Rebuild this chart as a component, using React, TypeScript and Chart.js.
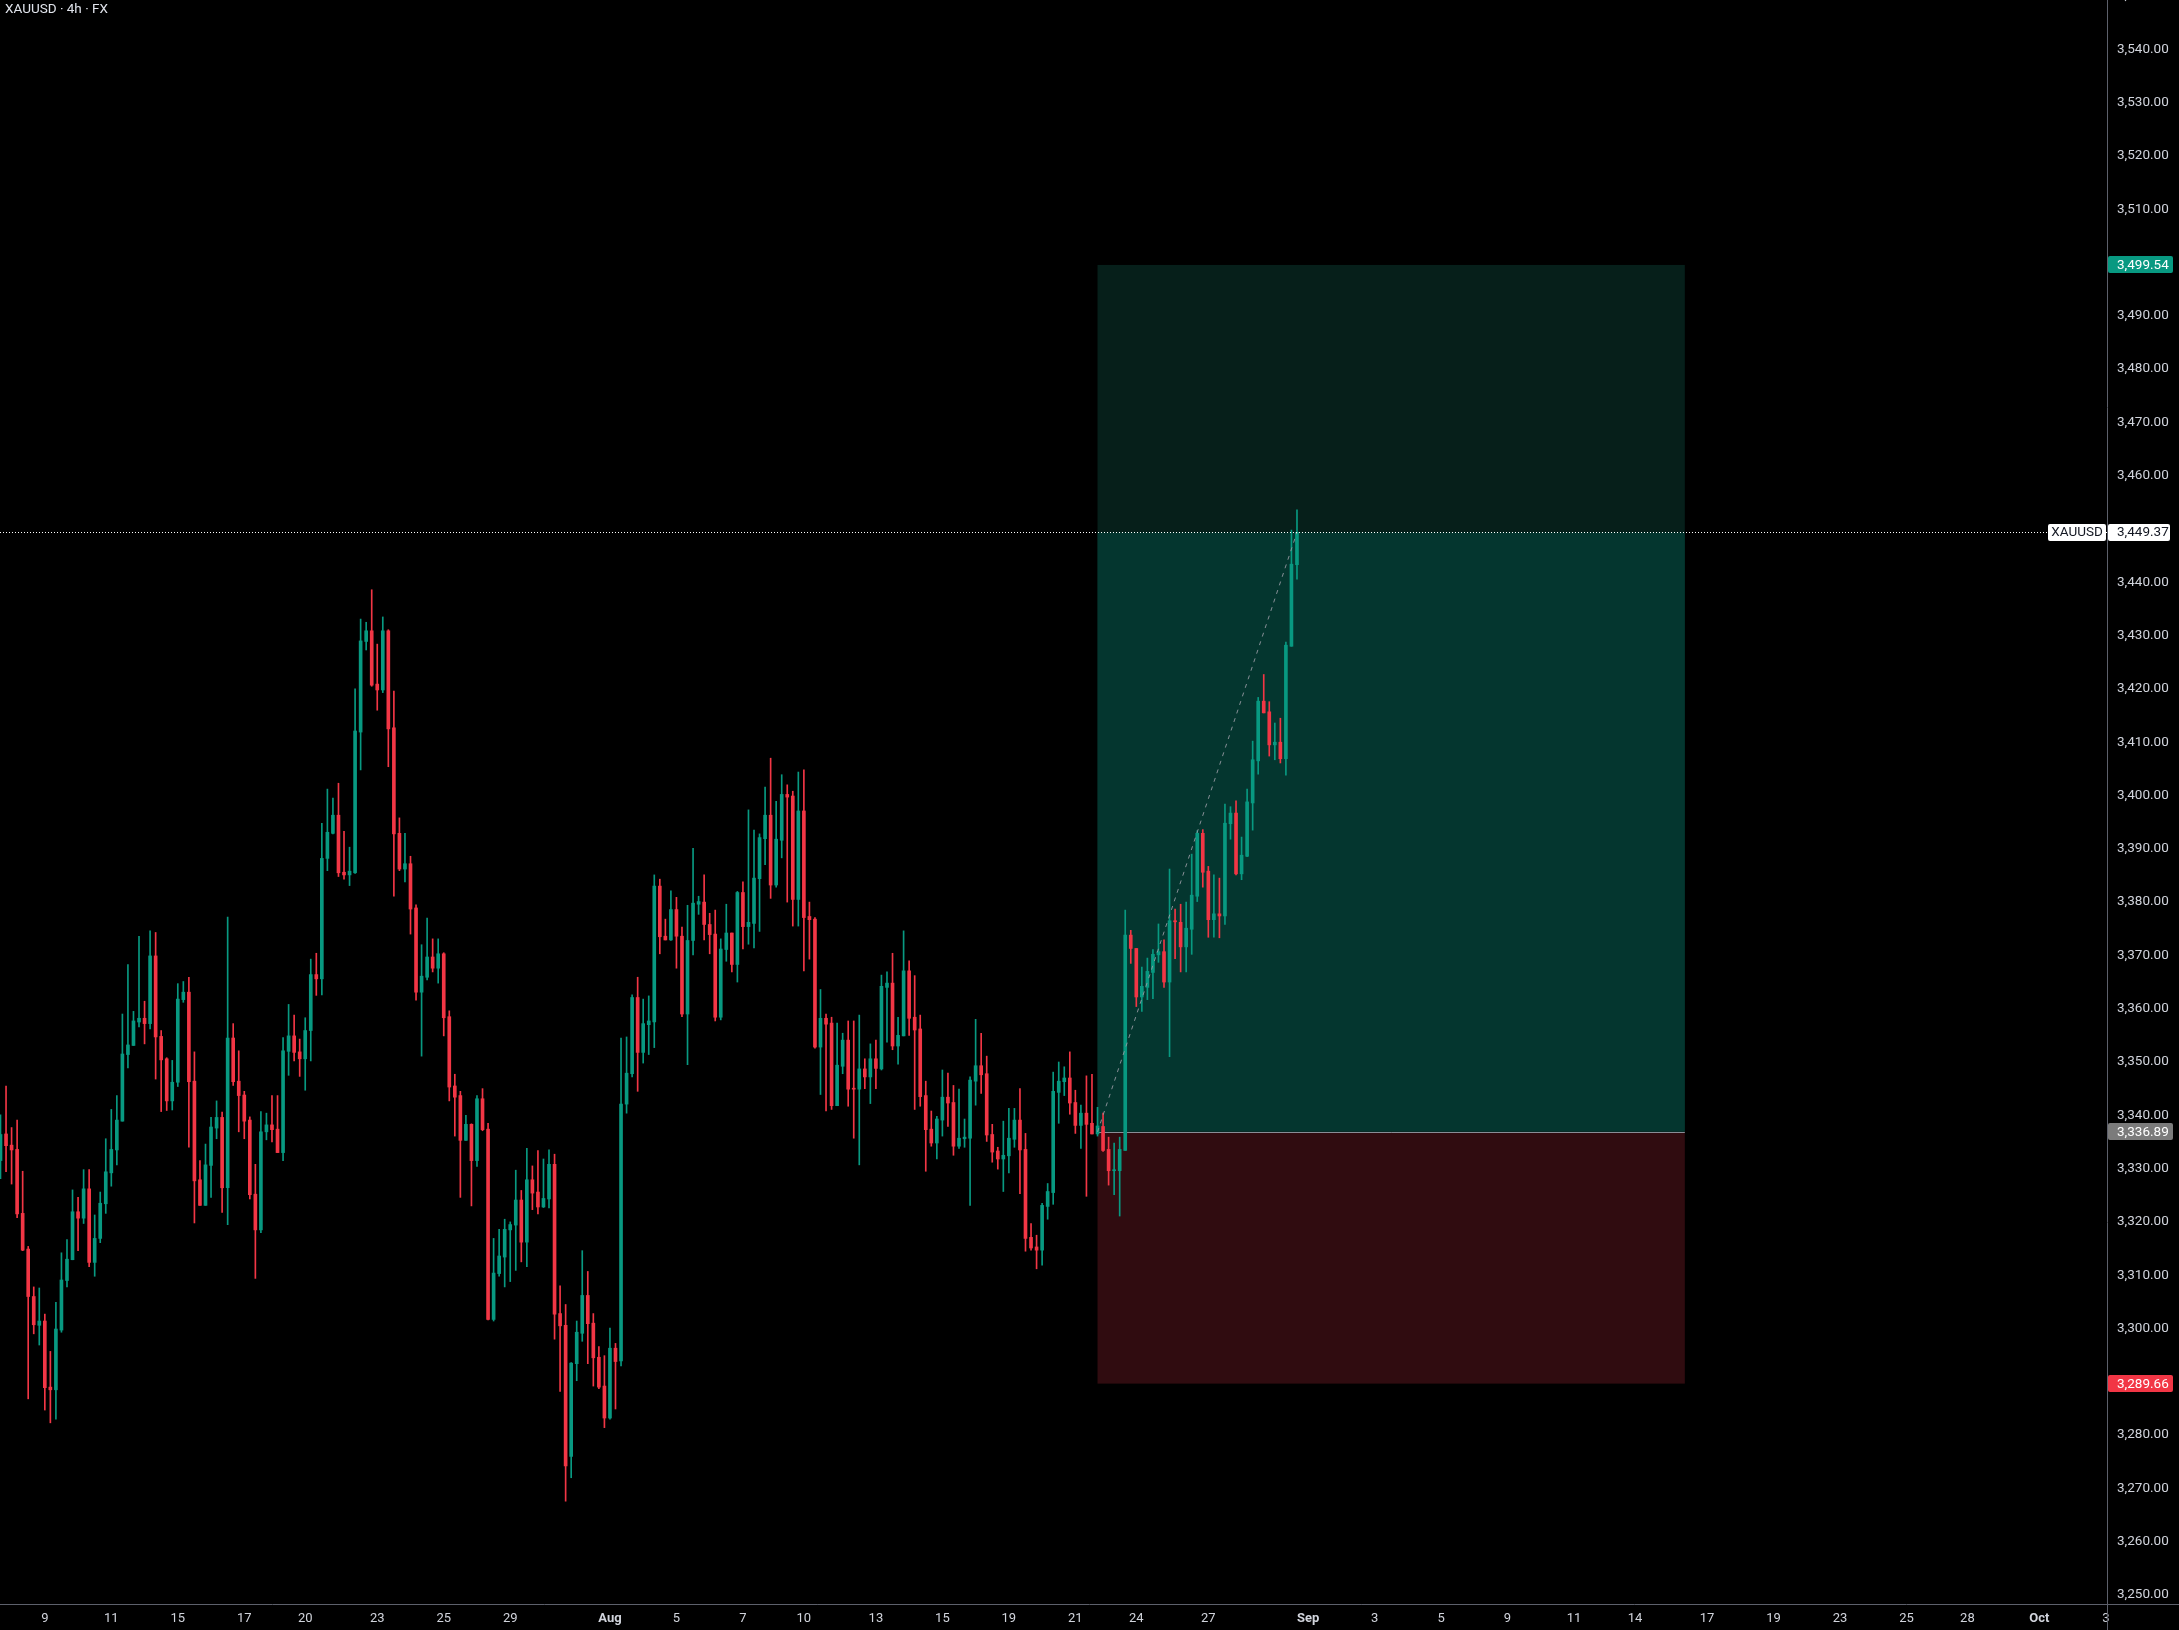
import React, { useEffect, useRef } from 'react';
import { Chart, registerables } from 'chart.js';

Chart.register(...registerables);

const TITLE = 'XAUUSD · 4h · FX';
const SYMBOL = 'XAUUSD';

// 4h candles, bar index = array index
const OPEN = [
  3331.5, 3336.5, 3334.4, 3333.6, 3321.6, 3314.9, 3306.0, 3300.6, 3301.4, 3289.0,
  3288.5, 3299.7, 3309.0, 3312.9, 3321.9, 3320.7, 3326.2, 3312.4, 3316.9, 3323.4,
  3329.2, 3333.5, 3338.9, 3351.4, 3353.1, 3357.5, 3358.2, 3357.2, 3369.9, 3354.8,
  3350.6, 3342.7, 3346.2, 3361.7, 3363.1, 3346.4, 3327.9, 3323.1, 3330.6, 3337.6,
  3339.6, 3326.4, 3354.5, 3346.4, 3343.8, 3339.1, 3325.2, 3318.5, 3336.9, 3338.2,
  3337.4, 3333.0, 3352.0, 3354.9, 3351.9, 3350.6, 3355.9, 3366.4, 3365.6, 3388.2,
  3392.9, 3396.3, 3385.6, 3385.1, 3385.5, 3411.9, 3428.9, 3430.9, 3420.9, 3419.8,
  3430.9, 3412.7, 3392.9, 3386.2, 3387.2, 3378.9, 3363.1, 3365.9, 3369.7, 3367.6,
  3370.3, 3358.5, 3345.5, 3343.7, 3335.3, 3338.3, 3331.5, 3343.1, 3337.4, 3301.7,
  3310.3, 3313.4, 3318.5, 3319.4, 3324.1, 3316.2, 3327.9, 3325.6, 3322.8, 3324.3,
  3330.8, 3302.8, 3300.6, 3276.0, 3293.4, 3299.1, 3306.2, 3301.0, 3294.6, 3289.2,
  3283.2, 3296.3, 3293.9, 3342.1, 3347.8, 3362.1, 3351.8, 3357.0, 3357.5, 3383.0,
  3373.6, 3372.9, 3378.6, 3373.6, 3359.0, 3372.8, 3379.6, 3380.0, 3375.8, 3374.0,
  3358.4, 3371.1, 3374.2, 3368.3, 3381.8, 3375.4, 3376.0, 3384.4, 3391.9, 3396.3,
  3383.2, 3391.6, 3400.2, 3399.9, 3380.5, 3397.1, 3377.3, 3376.8, 3352.8, 3358.2,
  3357.3, 3341.8, 3349.2, 3354.1, 3345.0, 3344.9, 3348.7, 3347.2, 3350.6, 3348.7,
  3364.0, 3364.8, 3353.0, 3354.9, 3367.1, 3358.4, 3356.2, 3343.7, 3337.4, 3334.8,
  3339.1, 3343.4, 3342.4, 3334.2, 3335.6, 3335.7, 3346.4, 3349.3, 3347.8, 3336.4,
  3333.3, 3331.8, 3332.4, 3335.5, 3339.1, 3333.6, 3317.1, 3315.3, 3314.7, 3322.9,
  3325.5, 3344.3, 3346.3, 3347.0, 3342.4, 3338.1, 3340.4, 3338.5, 3336.5, 3337.9,
  3333.6, 3329.6, 3329.6, 3333.4, 3373.8, 3371.3, 3362.2, 3364.0, 3366.8, 3370.1,
  3370.7, 3365.0, 3376.5, 3376.2, 3371.6, 3374.9, 3381.1, 3392.9, 3385.8, 3376.7,
  3377.8, 3377.4, 3394.7, 3396.7, 3385.3, 3388.6, 3398.6, 3406.5, 3417.7, 3415.7,
  3409.5, 3410.0, 3406.9, 3428.0, 3443.3,
];
const HIGH = [
  3340.1, 3345.5, 3337.7, 3339.1, 3329.5, 3315.4, 3307.8, 3307.6, 3302.7, 3295.7,
  3304.9, 3314.2, 3316.7, 3326.0, 3324.6, 3329.8, 3329.8, 3321.3, 3325.6, 3335.6,
  3341.1, 3343.7, 3359.0, 3368.3, 3359.5, 3373.6, 3361.4, 3374.6, 3374.3, 3355.9,
  3350.8, 3350.3, 3364.7, 3365.1, 3365.9, 3351.9, 3331.5, 3334.6, 3339.6, 3342.7,
  3340.6, 3377.2, 3357.2, 3352.1, 3344.5, 3339.7, 3330.8, 3340.7, 3340.4, 3343.7,
  3343.7, 3354.6, 3360.8, 3358.8, 3354.3, 3358.3, 3369.3, 3370.4, 3394.8, 3401.2,
  3399.5, 3402.3, 3393.3, 3390.3, 3420.0, 3433.1, 3432.5, 3438.6, 3428.4, 3433.5,
  3431.1, 3419.6, 3395.8, 3392.9, 3388.6, 3379.5, 3372.0, 3377.0, 3373.1, 3373.1,
  3370.5, 3359.6, 3347.7, 3344.5, 3340.0, 3338.4, 3343.7, 3345.0, 3338.5, 3316.9,
  3318.6, 3320.5, 3320.0, 3329.7, 3325.9, 3333.8, 3330.5, 3333.4, 3331.8, 3333.5,
  3332.7, 3308.0, 3304.5, 3293.6, 3301.4, 3314.6, 3310.7, 3302.8, 3296.6, 3294.9,
  3300.1, 3297.2, 3354.5, 3354.7, 3362.6, 3365.9, 3361.8, 3362.4, 3385.1, 3384.3,
  3376.8, 3382.1, 3380.9, 3375.3, 3379.4, 3390.1, 3381.1, 3385.1, 3377.9, 3378.5,
  3373.1, 3379.6, 3374.2, 3382.0, 3383.8, 3397.3, 3393.5, 3392.8, 3401.6, 3407.0,
  3398.9, 3403.9, 3402.0, 3400.8, 3404.4, 3404.8, 3380.0, 3377.1, 3363.6, 3359.0,
  3358.4, 3357.3, 3355.4, 3357.7, 3357.7, 3358.8, 3350.6, 3353.4, 3354.1, 3366.3,
  3366.9, 3370.4, 3358.4, 3374.6, 3369.0, 3366.2, 3358.8, 3346.4, 3340.8, 3339.8,
  3348.5, 3347.9, 3345.6, 3344.9, 3339.3, 3347.2, 3358.0, 3355.4, 3351.1, 3338.3,
  3334.0, 3338.9, 3341.3, 3341.3, 3345.0, 3336.6, 3319.7, 3317.5, 3323.5, 3327.2,
  3348.1, 3350.0, 3349.1, 3351.9, 3344.7, 3341.9, 3347.4, 3347.7, 3341.5, 3340.4,
  3335.9, 3334.8, 3335.9, 3378.5, 3374.7, 3371.3, 3367.8, 3369.5, 3371.1, 3375.9,
  3372.9, 3386.2, 3378.7, 3379.6, 3380.0, 3389.0, 3393.4, 3393.6, 3386.7, 3385.1,
  3384.5, 3398.4, 3397.9, 3399.0, 3392.2, 3401.2, 3410.2, 3418.4, 3422.7, 3417.6,
  3413.6, 3414.5, 3428.8, 3449.8, 3453.6,
];
const LOW = [
  3328.1, 3329.4, 3327.1, 3320.8, 3314.6, 3286.8, 3299.0, 3296.9, 3284.7, 3282.3,
  3283.0, 3299.3, 3307.8, 3312.9, 3314.6, 3319.7, 3311.6, 3309.8, 3316.1, 3321.6,
  3326.7, 3330.7, 3338.9, 3348.9, 3353.1, 3356.6, 3353.4, 3356.2, 3346.8, 3340.7,
  3340.9, 3341.0, 3345.4, 3361.2, 3334.0, 3319.8, 3323.1, 3323.1, 3324.6, 3335.6,
  3321.8, 3319.5, 3345.6, 3336.9, 3335.6, 3324.3, 3309.4, 3318.0, 3335.4, 3335.0,
  3333.0, 3331.5, 3347.5, 3350.2, 3347.3, 3344.7, 3350.2, 3362.5, 3362.6, 3385.9,
  3392.8, 3384.8, 3384.3, 3383.1, 3385.4, 3404.8, 3427.3, 3420.5, 3416.0, 3419.3,
  3405.4, 3381.1, 3385.9, 3383.8, 3374.0, 3361.6, 3351.1, 3365.4, 3366.9, 3364.8,
  3354.9, 3342.7, 3336.1, 3324.6, 3335.3, 3323.0, 3330.4, 3337.1, 3301.6, 3301.4,
  3309.8, 3307.8, 3308.8, 3310.9, 3312.5, 3311.6, 3322.3, 3321.5, 3322.7, 3322.6,
  3298.0, 3288.2, 3267.6, 3272.0, 3290.2, 3297.6, 3293.4, 3289.2, 3288.7, 3281.4,
  3283.0, 3284.9, 3293.0, 3340.4, 3347.2, 3344.5, 3349.8, 3351.4, 3352.7, 3370.3,
  3372.9, 3372.8, 3367.6, 3358.5, 3349.5, 3370.1, 3377.7, 3372.9, 3370.3, 3357.7,
  3357.9, 3368.9, 3366.9, 3365.0, 3371.2, 3372.1, 3371.4, 3374.5, 3387.0, 3380.7,
  3382.8, 3388.3, 3380.0, 3375.5, 3375.5, 3367.1, 3369.3, 3352.6, 3343.9, 3340.8,
  3341.1, 3341.8, 3347.8, 3341.7, 3335.7, 3330.7, 3345.0, 3342.2, 3345.0, 3348.5,
  3353.7, 3352.3, 3349.6, 3354.9, 3355.0, 3341.1, 3341.7, 3329.5, 3334.2, 3331.8,
  3336.1, 3337.9, 3332.5, 3333.8, 3334.0, 3323.1, 3341.9, 3344.1, 3335.1, 3331.2,
  3329.9, 3325.7, 3329.2, 3334.0, 3325.3, 3314.5, 3314.7, 3311.2, 3311.9, 3320.5,
  3323.3, 3338.5, 3343.7, 3340.2, 3336.6, 3333.8, 3324.8, 3336.5, 3336.1, 3333.2,
  3326.9, 3325.1, 3321.1, 3333.4, 3368.5, 3360.4, 3359.5, 3361.7, 3361.9, 3368.7,
  3364.0, 3351.0, 3369.4, 3366.9, 3366.9, 3370.2, 3380.1, 3382.8, 3373.4, 3373.4,
  3373.3, 3375.8, 3391.8, 3385.1, 3384.2, 3388.5, 3393.5, 3404.0, 3415.5, 3407.4,
  3406.7, 3406.1, 3403.8, 3428.0, 3440.6,
];
const CLOSE = [
  3336.4, 3334.3, 3333.5, 3321.5, 3314.7, 3306.0, 3300.7, 3301.4, 3288.9, 3288.5,
  3299.9, 3309.1, 3313.0, 3321.9, 3320.7, 3326.2, 3312.4, 3316.9, 3323.5, 3329.4,
  3333.6, 3339.1, 3351.5, 3353.2, 3357.7, 3358.2, 3357.2, 3369.9, 3354.7, 3350.4,
  3342.7, 3346.2, 3361.8, 3363.1, 3346.3, 3327.7, 3323.1, 3330.7, 3337.8, 3339.6,
  3326.4, 3354.5, 3346.3, 3343.7, 3338.9, 3325.1, 3318.5, 3336.9, 3338.2, 3337.3,
  3333.0, 3352.1, 3354.9, 3351.8, 3350.6, 3355.9, 3366.4, 3365.6, 3388.2, 3393.1,
  3396.3, 3385.5, 3385.1, 3385.8, 3412.1, 3429.0, 3430.9, 3420.7, 3419.8, 3430.9,
  3412.5, 3392.8, 3386.2, 3387.2, 3378.7, 3363.1, 3366.1, 3369.7, 3367.6, 3370.3,
  3358.3, 3345.3, 3343.4, 3335.3, 3338.3, 3331.5, 3343.1, 3337.3, 3301.7, 3310.4,
  3313.6, 3318.6, 3319.5, 3324.1, 3316.2, 3327.9, 3325.4, 3322.8, 3324.4, 3330.8,
  3302.7, 3300.5, 3274.2, 3293.5, 3299.3, 3306.2, 3300.9, 3294.5, 3289.0, 3283.2,
  3296.3, 3293.8, 3342.1, 3347.9, 3362.1, 3351.8, 3357.2, 3357.7, 3383.0, 3373.5,
  3372.9, 3378.6, 3373.6, 3359.0, 3372.8, 3379.8, 3380.1, 3375.8, 3373.9, 3358.4,
  3371.2, 3374.2, 3368.3, 3381.8, 3375.4, 3376.2, 3384.5, 3392.1, 3396.3, 3383.2,
  3391.8, 3400.2, 3399.7, 3380.5, 3397.1, 3377.1, 3376.7, 3352.8, 3358.2, 3357.1,
  3341.8, 3349.4, 3354.1, 3344.9, 3344.9, 3348.7, 3347.2, 3350.6, 3348.8, 3364.2,
  3364.8, 3353.0, 3355.0, 3367.1, 3358.2, 3356.0, 3343.5, 3337.3, 3334.8, 3339.3,
  3343.4, 3342.3, 3334.2, 3335.7, 3335.9, 3346.6, 3349.3, 3347.6, 3336.3, 3333.1,
  3331.8, 3332.5, 3335.7, 3339.1, 3333.5, 3316.9, 3315.1, 3314.7, 3323.1, 3325.7,
  3344.5, 3346.4, 3347.0, 3342.3, 3338.1, 3340.4, 3338.3, 3336.5, 3338.0, 3333.4,
  3329.6, 3329.7, 3333.6, 3373.8, 3371.3, 3362.2, 3364.2, 3367.0, 3370.2, 3370.7,
  3365.0, 3376.5, 3376.3, 3371.6, 3375.1, 3381.3, 3392.9, 3385.6, 3376.7, 3377.8,
  3377.4, 3394.8, 3396.7, 3385.3, 3388.8, 3398.8, 3406.7, 3417.7, 3415.5, 3409.5,
  3410.0, 3406.9, 3428.2, 3443.4, 3449.37,
];

// time-axis labels (bar index of the first bar of that day)
const X_TICK_INDEX = [8, 20, 32, 44, 55, 68, 80, 92, 110, 122, 134, 145, 158, 170, 182, 194, 205, 218, 236, 248, 260, 272, 284, 295, 308, 320, 332, 344, 355, 368, 380];
const X_TICK_LABELS = ['9', '11', '15', '17', '20', '23', '25', '29', 'Aug', '5', '7', '10', '13', '15', '19', '21', '24', '27', 'Sep', '3', '5', '9', '11', '14', '17', '19', '23', '25', '28', 'Oct', '3'];
const MONTH_LABELS = ['Aug', 'Sep', 'Oct'];

// long position tool
const TARGET_PRICE = 3499.54;
const CURRENT_PRICE = 3449.37;
const ENTRY_PRICE = 3336.89;
const STOP_PRICE = 3289.66;
const POSITION_START = 198;
const POSITION_END = 304;
const TREND_FROM = 198;
const TREND_TO = 234;

const X_MIN = -0.09;
const X_MAX = 380.2;
const Y_MIN = 3248.31;
const Y_MAX = 3549.25;
const Y_STEP = 10;
const TOP_PARTIAL_TICK = 3550;

const UP = '#089981';
const DOWN = '#f23645';
const TEXT = '#d1d4dc';
const AXIS_LINE = '#5d606b';
const FONT = 'Roboto, "Noto Sans", sans-serif';

const fmt = (v: number) =>
  v.toLocaleString('en-US', { minimumFractionDigits: 2, maximumFractionDigits: 2 });

const MARKERS = [TARGET_PRICE, CURRENT_PRICE, ENTRY_PRICE, STOP_PRICE];

function tag(ctx: CanvasRenderingContext2D, x0: number, w: number, yc: number, text: string, bg: string, fg: string, align: 'left' | 'center') {
  const h = 17;
  ctx.fillStyle = bg;
  ctx.beginPath();
  (ctx as any).roundRect(x0, Math.round(yc - h / 2), w, h, 2);
  ctx.fill();
  ctx.fillStyle = fg;
  ctx.font = `13.5px ${FONT}`;
  ctx.textBaseline = 'middle';
  ctx.textAlign = align;
  ctx.fillText(text, align === 'center' ? x0 + w / 2 : x0 + 9, Math.round(yc) + 0.5);
}

const overlay = {
  id: 'overlay',
  beforeDatasetsDraw(chart: any) {
    const { ctx, chartArea: a, scales } = chart;
    const xs = scales.x, ys = scales.y;
    const x0 = xs.getPixelForValue(POSITION_START);
    const x1 = xs.getPixelForValue(POSITION_END);
    const yT = ys.getPixelForValue(TARGET_PRICE);
    const yC = ys.getPixelForValue(CURRENT_PRICE);
    const yE = ys.getPixelForValue(ENTRY_PRICE);
    const yS = ys.getPixelForValue(STOP_PRICE);
    ctx.save();
    ctx.beginPath();
    ctx.rect(a.left, a.top, a.right - a.left, a.bottom - a.top);
    ctx.clip();
    ctx.fillStyle = '#061f1a';
    ctx.fillRect(x0, yT, x1 - x0, yE - yT);
    ctx.fillStyle = '#04362f';
    ctx.fillRect(x0, yC, x1 - x0, yE - yC);
    ctx.fillStyle = '#300c10';
    ctx.fillRect(x0, yE, x1 - x0, yS - yE);
    ctx.strokeStyle = '#8a8d96';
    ctx.lineWidth = 1;
    ctx.beginPath();
    ctx.moveTo(x0, Math.round(yE) + 0.5);
    ctx.lineTo(x1, Math.round(yE) + 0.5);
    ctx.stroke();
    ctx.restore();
  },
  afterDatasetsDraw(chart: any) {
    const { ctx, chartArea: a, scales } = chart;
    const xs = scales.x, ys = scales.y;
    ctx.save();
    ctx.beginPath();
    ctx.rect(a.left, a.top, a.right - a.left, a.bottom - a.top);
    ctx.clip();
    // trend (dashed) line
    ctx.strokeStyle = 'rgba(150,153,162,0.9)';
    ctx.lineWidth = 1;
    ctx.setLineDash([4, 5]);
    ctx.beginPath();
    ctx.moveTo(xs.getPixelForValue(TREND_FROM), ys.getPixelForValue(ENTRY_PRICE));
    ctx.lineTo(xs.getPixelForValue(TREND_TO), ys.getPixelForValue(CURRENT_PRICE));
    ctx.stroke();
    // current price dotted line
    const yC = Math.round(ys.getPixelForValue(CURRENT_PRICE)) + 0.5;
    ctx.strokeStyle = '#ffffff';
    ctx.setLineDash([1, 2]);
    ctx.beginPath();
    ctx.moveTo(a.left, yC);
    ctx.lineTo(a.right, yC);
    ctx.stroke();
    ctx.restore();
  },
  afterDraw(chart: any) {
    const { ctx, chartArea: a, scales, width, height } = chart;
    const ys = scales.y;
    ctx.save();
    // axis lines
    ctx.strokeStyle = AXIS_LINE;
    ctx.lineWidth = 1;
    ctx.beginPath();
    ctx.moveTo(Math.round(a.right) + 0.5, 0);
    ctx.lineTo(Math.round(a.right) + 0.5, height);
    ctx.moveTo(0, Math.round(a.bottom) + 0.5);
    ctx.lineTo(width, Math.round(a.bottom) + 0.5);
    ctx.stroke();
    // partially visible top tick
    ctx.fillStyle = TEXT;
    ctx.font = `13.5px ${FONT}`;
    ctx.textAlign = 'left';
    ctx.textBaseline = 'middle';
    ctx.fillText(fmt(TOP_PARTIAL_TICK), a.right + 10, ys.getPixelForValue(TOP_PARTIAL_TICK));
    // price tags
    const tx = Math.round(a.right) + 1;
    tag(ctx, tx, 65, ys.getPixelForValue(TARGET_PRICE), fmt(TARGET_PRICE), UP, '#ffffff', 'left');
    tag(ctx, tx, 62, ys.getPixelForValue(CURRENT_PRICE), fmt(CURRENT_PRICE), '#ffffff', '#131722', 'left');
    tag(ctx, Math.round(a.right) - 59, 58, ys.getPixelForValue(CURRENT_PRICE), SYMBOL, '#ffffff', '#131722', 'center');
    tag(ctx, tx, 65, ys.getPixelForValue(ENTRY_PRICE), fmt(ENTRY_PRICE), '#7b7b7b', '#ffffff', 'left');
    tag(ctx, tx, 65, ys.getPixelForValue(STOP_PRICE), fmt(STOP_PRICE), DOWN, '#ffffff', 'left');
    // title
    ctx.fillStyle = '#e0e3eb';
    ctx.font = `13.5px ${FONT}`;
    ctx.textAlign = 'left';
    ctx.textBaseline = 'middle';
    ctx.fillText(TITLE, 5, 10);
    ctx.restore();
  },
};

export default function App() {
  const ref = useRef<HTMLCanvasElement | null>(null);

  useEffect(() => {
    document.body.style.margin = '0';
    document.body.style.background = '#000';
    document.documentElement.style.background = '#000';
    const canvas = ref.current;
    if (!canvas) return;
    const idx = OPEN.map((_, i) => i);
    const colors = idx.map((i) => (CLOSE[i] >= OPEN[i] ? UP : DOWN));
    const chart = new Chart(canvas, {
      type: 'bar',
      data: {
        datasets: [
          {
            label: 'wicks',
            data: idx.map((i) => ({ x: i, y: [LOW[i], HIGH[i]] })) as any,
            backgroundColor: colors,
            barThickness: 1,
            grouped: false,
            order: 2,
          } as any,
          {
            label: 'bodies',
            data: idx.map((i) => ({ x: i, y: [Math.min(OPEN[i], CLOSE[i]), Math.max(OPEN[i], CLOSE[i])] })) as any,
            backgroundColor: colors,
            barThickness: 3,
            minBarLength: 1,
            grouped: false,
            order: 1,
          } as any,
        ],
      },
      options: {
        animation: false,
        responsive: false,
        maintainAspectRatio: false,
        devicePixelRatio: 1,
        layout: { padding: 0 },
        plugins: { legend: { display: false }, tooltip: { enabled: false } },
        scales: {
          x: {
            type: 'linear',
            offset: false,
            min: X_MIN,
            max: X_MAX,
            grid: { display: false, drawTicks: false, offset: false },
            border: { display: false },
            afterBuildTicks: (s: any) => {
              s.ticks = X_TICK_INDEX.map((v) => ({ value: v }));
            },
            afterFit: (s: any) => {
              s.height = 26;
              s.paddingLeft = 0;
              s.paddingRight = 0;
            },
            ticks: {
              autoSkip: false,
              maxRotation: 0,
              minRotation: 0,
              padding: 7,
              color: TEXT,
              font: (c: any) => ({
                family: FONT,
                size: 13,
                weight: MONTH_LABELS.includes(X_TICK_LABELS[c.index]) ? 'bold' : 'normal',
              }),
              callback: (_v: any, i: number) => X_TICK_LABELS[i],
            },
          } as any,
          y: {
            type: 'linear',
            position: 'right',
            min: Y_MIN,
            max: Y_MAX,
            grid: { display: false, drawTicks: false },
            border: { display: false },
            afterFit: (s: any) => {
              s.width = 72;
              s.paddingTop = 0;
              s.paddingBottom = 0;
            },
            ticks: {
              stepSize: Y_STEP,
              includeBounds: false,
              padding: 10,
              color: TEXT,
              font: { family: FONT, size: 13.5 },
              callback: (v: any) =>
                MARKERS.some((m) => Math.abs(m - Number(v)) < 1.5) ? '' : fmt(Number(v)),
            },
          } as any,
        },
      },
      plugins: [overlay],
    });
    return () => chart.destroy();
  }, []);

  return (
    <canvas
      ref={ref}
      width={2179}
      height={1630}
      style={{ display: 'block', width: 2179, height: 1630, background: '#000' }}
    />
  );
}
